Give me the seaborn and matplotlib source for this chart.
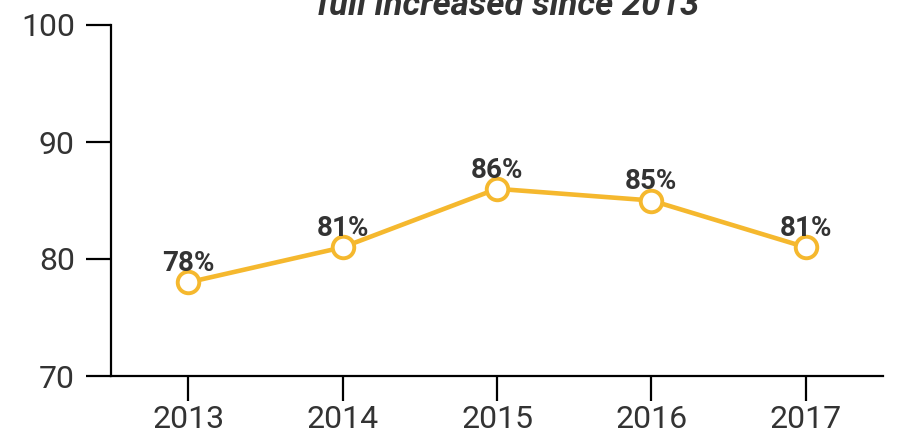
import matplotlib
matplotlib.use('agg')
import matplotlib.pyplot as plt
import seaborn as sns
import pandas as pd

years = ['2013', '2014', '2015', '2016', '2017']
values = [78, 81, 86, 85, 81]
y_ticks = [70, 80, 90, 100]
title = 'full increased since 2013'

text_col = '#333333'
line_col = '#F5B82E'

sns.set_theme(style='white')
plt.rcParams['font.family'] = ['Roboto', 'DejaVu Sans']

fig = plt.figure(figsize=(8.98, 4.41), dpi=100)
ax = fig.add_axes([111 / 898, 65 / 441, 772 / 898, 351 / 441])

df = pd.DataFrame({'year': years, 'value': values})
sns.lineplot(data=df, x='year', y='value', ax=ax, color=line_col, linewidth=3.3,
             marker='o', markersize=15.5, markerfacecolor='white',
             markeredgecolor=line_col, markeredgewidth=2.8)

# percentage labels above each point
for i, v in enumerate(values):
    ax.annotate(f'{v}%', (i, v), xytext=(0, 8), textcoords='offset points',
                ha='center', va='baseline', fontsize=20, fontweight='bold',
                color=text_col)

ax.set_xlim(-0.5, 4.5)
ax.set_ylim(70, 100)
ax.set_yticks(y_ticks)
ax.set_xlabel('')
ax.set_ylabel('')

for side in ['top', 'right']:
    ax.spines[side].set_visible(False)
for side in ['left', 'bottom']:
    ax.spines[side].set_color('black')
    ax.spines[side].set_linewidth(1.6)

ax.tick_params(axis='both', which='major', direction='out', length=18, width=1.6,
               color='black', labelsize=23, labelcolor=text_col,
               left=True, bottom=True)
ax.tick_params(axis='y', pad=8)
ax.tick_params(axis='x', pad=3)

# title sits partly above the canvas, as in the original
fig.text(508 / 898, 1 - 15 / 441, title, ha='center', va='baseline',
         fontsize=25, fontweight='bold', fontstyle='italic', color=text_col)

fig.savefig('out.png', dpi=100)
plt.close(fig)
